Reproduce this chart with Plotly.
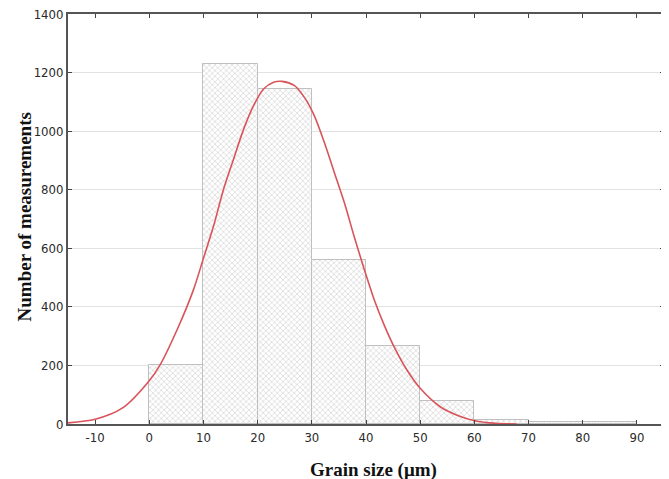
import plotly.graph_objects as go

# histogram bins (grain size, um) and counts
bin_left = [0, 10, 20, 30, 40, 50, 60, 70, 80]
counts = [200, 1230, 1143, 561, 268, 79, 14, 6, 6]

# fitted normal curve
curve_x = [-15, -10, -5, 0, 2, 5.4, 8.15, 10, 11.85, 13.7, 15.55, 17.4, 19.25, 21.1,
           22.95, 24.5, 26.75, 28.6, 30.45, 32.3, 34.15, 36, 37.8, 39.7, 41.5, 43.4,
           45.1, 47.5, 50, 53.7, 56.7, 60.1, 64, 67.8]
curve_y = [4, 16, 54, 148, 202, 333, 458, 566, 675, 801, 904, 1006, 1087, 1144,
           1167, 1170, 1156, 1116, 1053, 962, 859, 756, 641, 527, 425, 336,
           267, 186, 122, 59, 31, 11, 2, 0]

x_ticks = [-10, 0, 10, 20, 30, 40, 50, 60, 70, 80, 90]
x_labels = ["-10", "0", "10", "20", "30", "40", "50", "60", "70", "80", "90"]
y_ticks = [0, 200, 400, 600, 800, 1000, 1200, 1400]

tick_font = dict(family="DejaVu Sans Condensed, Liberation Sans Narrow", size=13, color="#2a2a2a")
title_font = dict(family="Liberation Serif, Times New Roman", size=19, color="#111")

fig = go.Figure()
fig.add_trace(go.Bar(
    x=[b + 5 for b in bin_left], y=counts, width=10,
    marker=dict(color="white", line=dict(color="#c0c0c0", width=1),
                pattern=dict(shape="x", fgcolor="#b4b4b4", bgcolor="white", size=4, solidity=0.35)),
    showlegend=False,
))
fig.add_trace(go.Scatter(
    x=curve_x, y=curve_y, mode="lines", line=dict(color="#d9545a", width=1.6, shape="spline", smoothing=0.8),
    showlegend=False,
))

# page body adds an 8px offset, so the figure is sized and margined to compensate
fig.update_layout(
    width=661, height=471,
    margin=dict(l=60, r=5, t=6, b=55),
    paper_bgcolor="white", plot_bgcolor="white",
    bargap=0,
    annotations=[
        dict(text="<b>Grain size (μm)</b>", font=title_font, xref="paper", yref="paper",
             x=0.512, y=-0.112, xanchor="center", yanchor="middle", showarrow=False),
        dict(text="<b>Number of measurements</b>", font=title_font, xref="paper", yref="paper",
             x=-0.073, y=0.505, xanchor="center", yanchor="middle", textangle=-90, showarrow=False),
    ],
)
fig.update_xaxes(
    range=[-15, 95], tickvals=x_ticks, ticktext=x_labels, tickfont=tick_font,
    showgrid=False, zeroline=False, automargin=False,
    showline=True, linecolor="#555", linewidth=2, mirror="ticks",
    ticks="inside", ticklen=4, tickcolor="#444",
)
fig.update_yaxes(
    range=[0, 1400], tickvals=y_ticks, tickfont=tick_font, ticklabeloverflow="allow",
    showgrid=True, gridcolor="#e2e2e2", gridwidth=1, zeroline=False, automargin=False,
    showline=True, linecolor="#555", linewidth=2, mirror="ticks",
    ticks="inside", ticklen=4, tickcolor="#444",
)

fig.write_html("out.html")
